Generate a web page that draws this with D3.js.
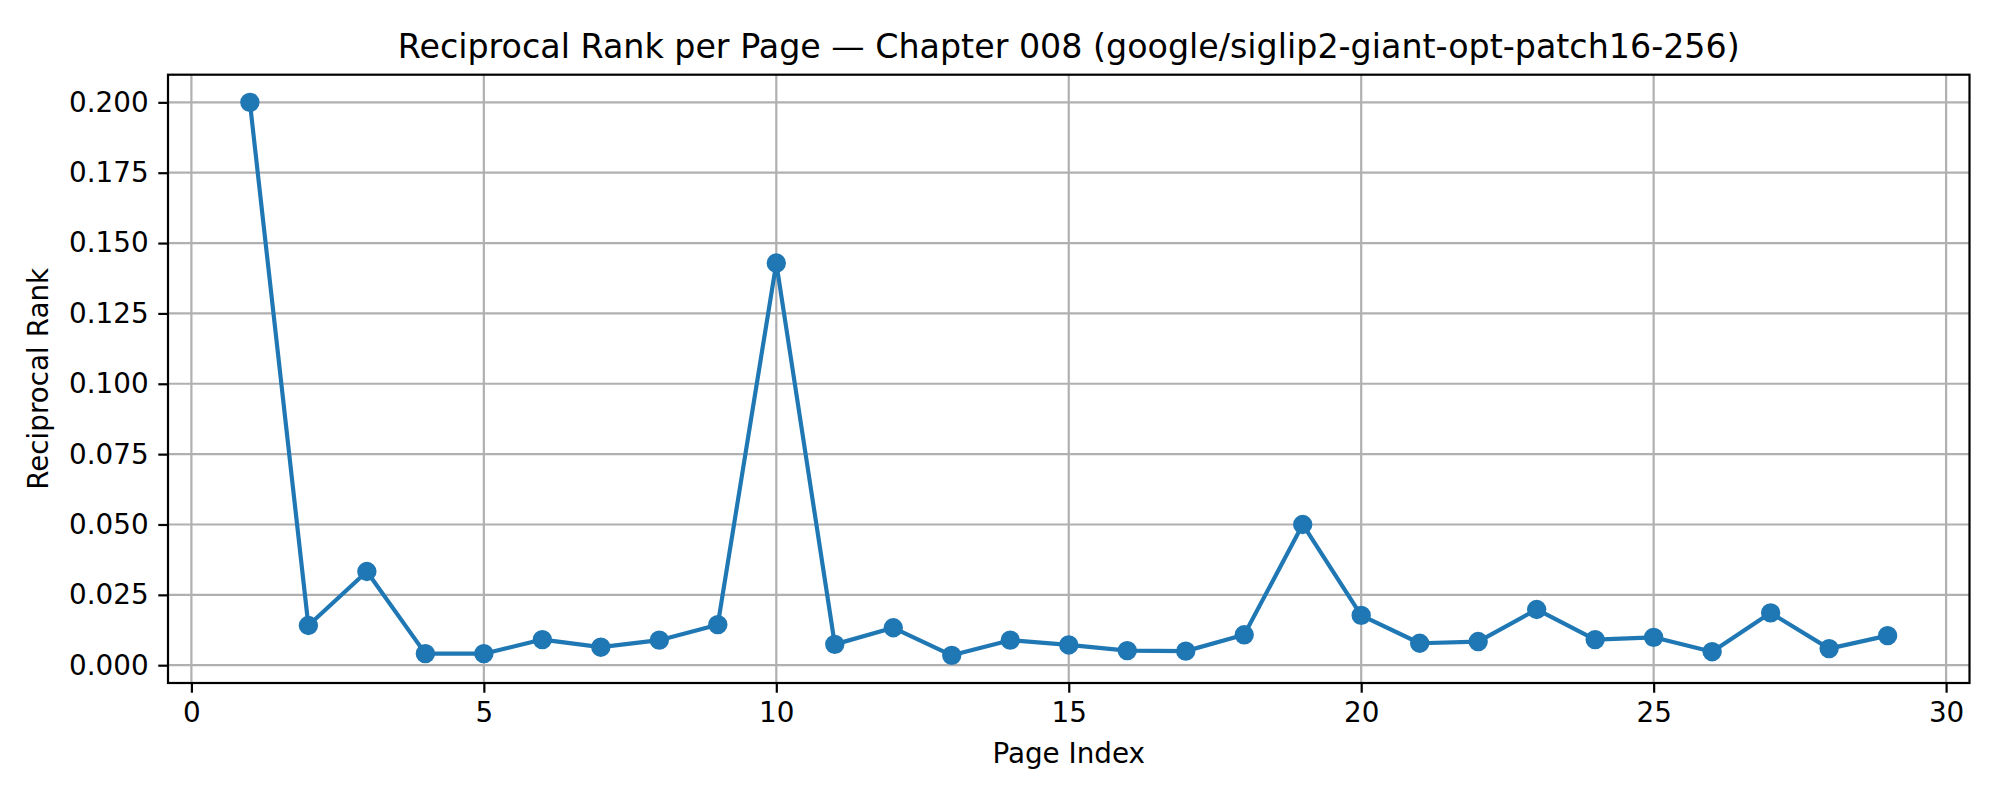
<!DOCTYPE html>
<html>
<head>
<meta charset="utf-8">
<script src="https://cdn.jsdelivr.net/npm/d3@7"></script>
<style>
  body { margin: 0; background: #fff; }
  text { font-family: "DejaVu Sans", sans-serif; fill: #000; }
</style>
</head>
<body>
<div id="vis1"></div>
<script>
const FRAME_WIDTH = 2000;
const FRAME_HEIGHT = 800;
const MARGINS = {left: 168, right: 30.5, top: 74.7, bottom: 117};

// data
const pages = [1, 2, 3, 4, 5, 6, 7, 8, 9, 10, 11, 12, 13, 14, 15, 16, 17, 18, 19, 20, 21, 22, 23, 24, 25, 26, 27, 28, 29];
const rr = [0.2, 0.0141, 0.0333, 0.0041, 0.0041, 0.0091, 0.0064, 0.0089, 0.0144, 0.1429,
            0.0074, 0.0133, 0.0035, 0.0089, 0.0072, 0.0052, 0.0050, 0.0108, 0.05, 0.0177,
            0.0078, 0.0084, 0.0198, 0.0091, 0.0099, 0.0048, 0.0186, 0.0059, 0.0105];
const xTicks = [0, 5, 10, 15, 20, 25, 30];
const yTicks = [0, 0.025, 0.05, 0.075, 0.1, 0.125, 0.15, 0.175, 0.2];

const TITLE = 'Reciprocal Rank per Page \u2014 Chapter 008 (google/siglip2-giant-opt-patch16-256)';

const VIS_WIDTH = FRAME_WIDTH - MARGINS.left - MARGINS.right;
const VIS_HEIGHT = FRAME_HEIGHT - MARGINS.top - MARGINS.bottom;

const FRAME = d3.select('#vis1')
  .append('svg')
    .attr('width', FRAME_WIDTH)
    .attr('height', FRAME_HEIGHT);

// matplotlib style 5% margins
const xPad = (d3.max(pages) - d3.min(pages)) * 0.05;
const yPad = (d3.max(rr) - d3.min(rr)) * 0.05;

const X_SCALE = d3.scaleLinear()
  .domain([d3.min(pages) - xPad, d3.max(pages) + xPad])
  .range([0, VIS_WIDTH]);

const Y_SCALE = d3.scaleLinear()
  .domain([d3.min(rr) - yPad, d3.max(rr) + yPad])
  .range([VIS_HEIGHT, 0]);

const G = FRAME.append('g')
  .attr('transform', 'translate(' + MARGINS.left + ',' + MARGINS.top + ')');

// grid
G.append('g')
  .selectAll('line')
  .data(xTicks)
  .enter()
  .append('line')
    .attr('x1', d => X_SCALE(d)).attr('x2', d => X_SCALE(d))
    .attr('y1', 0).attr('y2', VIS_HEIGHT)
    .attr('stroke', '#b0b0b0').attr('stroke-width', 2.2);

G.append('g')
  .selectAll('line')
  .data(yTicks)
  .enter()
  .append('line')
    .attr('x1', 0).attr('x2', VIS_WIDTH)
    .attr('y1', d => Y_SCALE(d)).attr('y2', d => Y_SCALE(d))
    .attr('stroke', '#b0b0b0').attr('stroke-width', 2.2);

// axes
const xAxis = G.append('g')
  .attr('transform', 'translate(0,' + VIS_HEIGHT + ')')
  .call(d3.axisBottom(X_SCALE).tickValues(xTicks).tickFormat(d3.format('d'))
        .tickSize(9.7).tickPadding(9.7).tickSizeOuter(0));

const yAxis = G.append('g')
  .call(d3.axisLeft(Y_SCALE).tickValues(yTicks).tickFormat(d3.format('.3f'))
        .tickSize(9.7).tickPadding(9.7).tickSizeOuter(0));

[xAxis, yAxis].forEach(a => {
  a.select('.domain').remove();
  a.selectAll('line').attr('stroke', '#000').attr('stroke-width', 2.2);
  a.selectAll('text').attr('font-size', '27.8px').attr('font-family', '"DejaVu Sans", sans-serif');
});

// line + markers
const line = d3.line()
  .x((d, i) => X_SCALE(pages[i]))
  .y(d => Y_SCALE(d));

G.append('path')
  .datum(rr)
  .attr('d', line)
  .attr('fill', 'none')
  .attr('stroke', '#1f77b4')
  .attr('stroke-width', 4.17)
  .attr('stroke-linejoin', 'round');

G.selectAll('circle.point')
  .data(rr)
  .enter()
  .append('circle')
    .attr('class', 'point')
    .attr('cx', (d, i) => X_SCALE(pages[i]))
    .attr('cy', d => Y_SCALE(d))
    .attr('r', 8.3)
    .attr('fill', '#1f77b4')
    .attr('stroke', '#1f77b4')
    .attr('stroke-width', 2.78);

// frame
G.append('rect')
  .attr('width', VIS_WIDTH)
  .attr('height', VIS_HEIGHT)
  .attr('fill', 'none')
  .attr('stroke', '#000')
  .attr('stroke-width', 2.2);

// labels
FRAME.append('text')
  .attr('x', MARGINS.left + VIS_WIDTH / 2)
  .attr('y', MARGINS.top - 16.7)
  .attr('text-anchor', 'middle')
  .attr('font-size', '33.3px')
  .text(TITLE);

FRAME.append('text')
  .attr('x', MARGINS.left + VIS_WIDTH / 2)
  .attr('y', 763)
  .attr('text-anchor', 'middle')
  .attr('font-size', '27.8px')
  .text('Page Index');

FRAME.append('text')
  .attr('transform', 'translate(48,' + (MARGINS.top + VIS_HEIGHT / 2) + ') rotate(-90)')
  .attr('text-anchor', 'middle')
  .attr('font-size', '27.8px')
  .text('Reciprocal Rank');
</script>
</body>
</html>
